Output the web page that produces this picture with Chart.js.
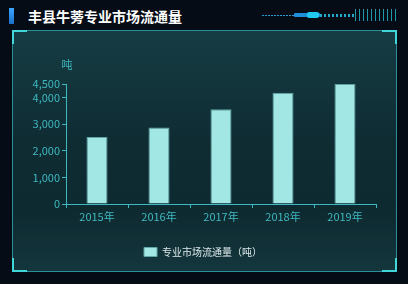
<!DOCTYPE html>
<html><head><meta charset="utf-8">
<script src="https://cdn.jsdelivr.net/npm/chart.js@4.4.0/dist/chart.umd.min.js"></script>
<style>
html,body{margin:0;padding:0;width:408px;height:284px;overflow:hidden;background:#050c16;}
#bg{position:absolute;left:0;top:0;width:408px;height:284px;
 background:
  radial-gradient(circle at 180px 183px, rgba(120,160,200,0.6) 0 1px, transparent 2px),
  radial-gradient(circle at 330px 60px, rgba(80,130,200,0.6) 0 1px, transparent 2px),
  radial-gradient(circle at 250px 140px, rgba(80,130,200,0.5) 0 1px, transparent 2px),
  radial-gradient(circle at 40px 120px, rgba(80,130,200,0.5) 0 1px, transparent 2px),
  radial-gradient(circle at 390px 230px, rgba(80,130,200,0.5) 0 1px, transparent 2px),
  #050c16;}
#panel{position:absolute;left:12px;top:30px;width:383px;height:240px;
 border:1px solid #2b8f98;
 background:linear-gradient(180deg,#163c43 0%,#0f2c33 45%,#0e2a31 75%,#13363c 100%);}
.c{position:absolute;width:13px;height:12px;border-color:#41d6d8;border-style:solid;}
#bar{position:absolute;left:9px;top:8px;width:5px;height:16px;background:linear-gradient(180deg,#3aa8ff,#1b6fc8);}
#title{position:absolute;left:28px;top:6px;font:bold 14px "Noto Sans CJK SC";color:#fff;}
canvas{position:absolute;left:0;top:0;}
</style></head>
<body>
<div id="bg"></div>
<div id="panel"></div>
<div class="c" style="left:12px;top:30px;border-width:2px 0 0 2px;"></div>
<div class="c" style="left:382px;top:30px;border-width:2px 2px 0 0;"></div>
<div class="c" style="left:12px;top:258px;border-width:0 0 2px 2px;"></div>
<div class="c" style="left:382px;top:258px;border-width:0 2px 2px 0;"></div>
<div id="bar"></div>
<div id="title">丰县牛蒡专业市场流通量</div>
<div style="position:absolute;left:262px;top:15px;width:34px;height:1px;background:repeating-linear-gradient(90deg,#2a9bd0 0 2px,transparent 2px 3px);"></div>
<div style="position:absolute;left:294px;top:13px;width:26px;height:4px;background:#1d8fd8;border-radius:1px;"></div>
<div style="position:absolute;left:307px;top:12px;width:12px;height:6px;background:#20c8f0;border-radius:2px;"></div>
<div style="position:absolute;left:320px;top:14px;width:34px;height:3px;background:repeating-linear-gradient(90deg,#1fa8c8 0 2px,transparent 2px 4px);"></div>
<div style="position:absolute;left:355px;top:9px;width:44px;height:12px;background:repeating-linear-gradient(90deg,#1c9aaa 0 1px,transparent 1px 4px);"></div>
<canvas id="c" width="408" height="284"></canvas>
<script>
const categories = ['2015年','2016年','2017年','2018年','2019年'];
const values = [2510, 2870, 3550, 4170, 4510];
const yTicks = [0, 1000, 2000, 3000, 4000, 4500];
const seriesName = '专业市场流通量（吨）';
const yUnit = '吨';

const teal = '#3fb9c0';
const unitPlugin = {
  id:'unit',
  afterDraw(chart){
    const y = chart.scales.y, ctx = chart.ctx;
    ctx.save();
    ctx.font = '11px "Noto Sans CJK SC"';
    ctx.fillStyle = teal;
    ctx.textAlign = 'center';
    ctx.textBaseline = 'middle';
    ctx.fillText(yUnit, y.right + 1, chart.chartArea.top - 19);
    ctx.restore();
  }
};
new Chart(document.getElementById('c'), {
  type:'bar',
  data:{labels:categories, datasets:[{label:seriesName, data:values,
    backgroundColor:'#a2e7e4', borderColor:'#5fa6a8', borderWidth:1,
    barPercentage:0.34, categoryPercentage:1}]},
  options:{
    responsive:false, animation:false,
    layout:{padding:{left:30,right:32,top:84,bottom:17}},
    plugins:{
      legend:{position:'bottom', labels:{boxWidth:13, boxHeight:9, padding:10,
        color:'#dce8ea', font:{size:10, family:'"Noto Sans CJK SC"'}}},
      tooltip:{enabled:false}
    },
    scales:{
      x:{
        grid:{display:true, drawOnChartArea:false, drawTicks:true, tickLength:4, color:teal, offset:true},
        border:{color:teal, width:1},
        ticks:{color:teal, padding:2, font:{size:11, family:'"Noto Sans CJK SC"'}},
        afterFit(s){ s.height = 33; }
      },
      y:{
        min:0, max:4500,
        grid:{display:true, drawOnChartArea:false, drawTicks:true, tickLength:4, color:teal},
        border:{color:teal, width:1},
        ticks:{color:teal, padding:2, font:{size:11, family:'"Noto Sans CJK SC"'},
          callback:v=>v.toLocaleString('en-US')},
        afterBuildTicks(s){ s.ticks = yTicks.map(v=>({value:v})); },
        afterFit(s){ s.width = 36; }
      }
    }
  },
  plugins:[unitPlugin]
});
</script>
</body></html>
